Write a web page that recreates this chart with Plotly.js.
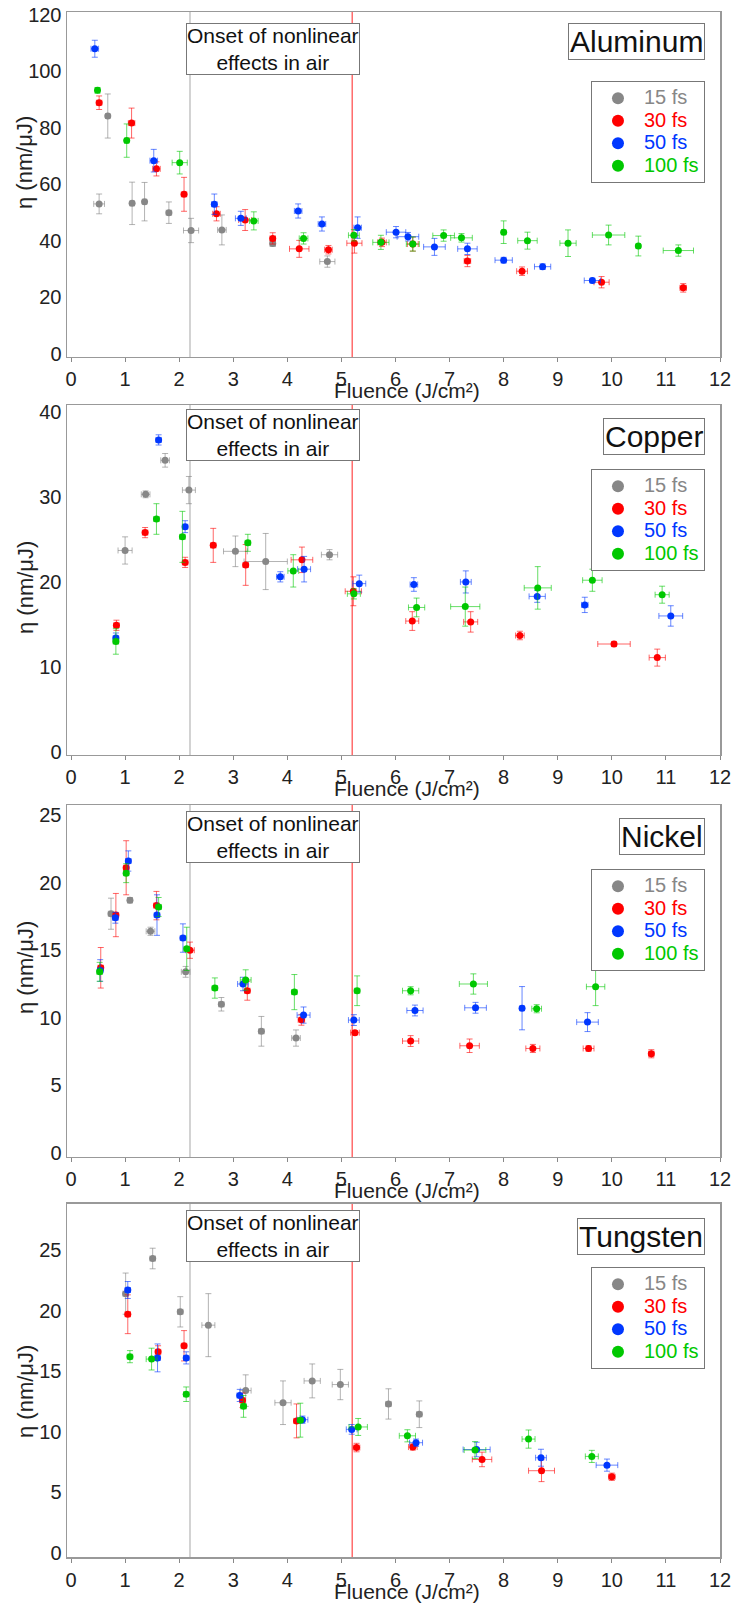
<!DOCTYPE html>
<html><head><meta charset="utf-8">
<script src="https://cdn.plot.ly/plotly-3.0.1.min.js"></script>
<style>body{margin:0;background:#fff}#chart{width:735px;height:1603px}</style>
</head><body><div id="chart"></div>
<script>
// ---------- categories / labels ----------
const pulses = ['15 fs', '30 fs', '50 fs', '100 fs'];
const metals = ['Aluminum', 'Copper', 'Nickel', 'Tungsten'];
const xTickVals = [0,1,2,3,4,5,6,7,8,9,10,11,12];
const yTicksAl = [0,20,40,60,80,100,120];
const yTicksCu = [0,10,20,30,40];
const yTicksNi = [0,5,10,15,20,25];
const yTicksW  = [0,5,10,15,20,25];
const onsetLabel = 'Onset of nonlinear<br>effects in air';
const airOnsetFluence = 2.2;
const secondMarkFluence = 5.2;

// ---------- Aluminum ----------
const al15_x  = [0.52,0.68,1.13,1.36,1.81,2.22,2.79,3.73,4.74];
const al15_y  = [53.1,84.2,53.3,53.9,50.0,43.7,43.9,39.1,32.7];
const al15_ex = [0.1,0.04,0.04,0.04,0.05,0.14,0.08,0.05,0.14];
const al15_ey = [3.5,7.8,7.5,6.8,3.8,4.3,5.3,1,2];
const al30_x  = [0.52,1.12,1.58,2.09,2.69,3.22,3.73,4.22,4.76,5.24,5.75,6.32,7.33,8.34,9.81,11.32];
const al30_y  = [88.9,81.7,65.5,56.5,49.6,47.4,40.9,37.2,36.9,39.2,39.5,38.9,32.9,29.3,25.4,23.4];
const al30_ex = [0.05,0.06,0.07,0.05,0.07,0.12,0.05,0.18,0.07,0.14,0.08,0.1,0.06,0.1,0.14,0.06];
const al30_ey = [2.4,5.3,2.5,6,2.5,3.7,2,3,1.5,3.5,1.5,2.5,2,1.5,2,1.5];
const al50_x  = [0.44,1.53,2.65,3.14,4.20,4.64,5.30,6.01,6.23,6.72,7.33,8.00,8.72,9.64];
const al50_y  = [108.0,68.4,53.0,48.0,50.6,46.0,44.7,43.1,41.5,37.9,37.2,33.2,30.9,26.0];
const al50_ex = [0.07,0.07,0.05,0.1,0.07,0.07,0.07,0.18,0.2,0.2,0.18,0.16,0.15,0.15];
const al50_ey = [3,4,3.6,2.5,2.5,2.5,3.8,2,1.5,3,2,1,1,0.8];
const al100_x  = [0.49,1.03,2.01,3.38,4.30,5.23,5.73,6.32,6.89,7.22,8.00,8.44,9.19,9.94,10.49,11.23];
const al100_y  = [93.3,75.5,67.7,47.1,40.9,42.0,39.5,38.9,41.9,41.1,43.1,40.1,39.2,42.1,38.2,36.6];
const al100_ex = [0.04,0.04,0.14,0.08,0.08,0.1,0.15,0.12,0.2,0.2,0.04,0.18,0.15,0.3,0.04,0.28];
const al100_ey = [1,5.9,4,3.2,2,2,2.5,2.5,2,1.5,4,3,4.7,3.5,3.5,2];

// ---------- Copper ----------
const cu15_x  = [1.00,1.38,1.74,2.18,3.04,3.60,4.78];
const cu15_y  = [23.7,30.3,34.3,30.8,23.6,22.4,23.2];
const cu15_ex = [0.13,0.08,0.08,0.12,0.22,0.4,0.15];
const cu15_ey = [1.6,0.4,0.8,1.6,1.8,3.3,0.6];
const cu30_x  = [0.84,1.37,2.11,2.63,3.23,4.27,5.22,6.31,7.39,8.30,10.04,10.84];
const cu30_y  = [14.9,25.8,22.3,24.3,22.0,22.6,18.9,15.4,15.3,13.7,12.7,11.1];
const cu30_ex = [0.05,0.05,0.05,0.05,0.05,0.2,0.15,0.12,0.13,0.08,0.3,0.15];
const cu30_ey = [0.6,0.6,0.6,2,2.4,1.5,1.7,1.1,1.2,0.5,0.3,1];
const cu50_x  = [0.83,1.62,2.11,3.87,4.31,5.33,6.34,7.30,8.62,9.50,11.09];
const cu50_y  = [13.4,36.7,26.5,20.6,21.5,19.8,19.7,20.0,18.3,17.3,16.0];
const cu50_ex = [0.05,0.05,0.05,0.07,0.12,0.12,0.07,0.1,0.15,0.06,0.22];
const cu50_ey = [0.6,0.6,0.7,0.6,1.5,1,0.8,1.3,0.7,0.9,1.2];
const cu100_x  = [0.83,1.58,2.06,3.27,4.11,5.23,6.39,7.29,8.63,9.64,10.93];
const cu100_y  = [13.0,27.4,25.3,24.6,21.3,18.6,17.0,17.1,19.3,20.2,18.5];
const cu100_ex = [0.05,0.05,0.05,0.05,0.1,0.12,0.15,0.27,0.25,0.18,0.13];
const cu100_ey = [1.5,1.8,3,1,1.9,0.6,1.1,2.3,2.5,1.3,1];

// ---------- Nickel ----------
const ni15_x  = [0.74,1.09,1.47,2.12,2.78,3.52,4.16];
const ni15_y  = [17.7,18.7,16.4,13.4,11.0,9.0,8.5];
const ni15_ex = [0.05,0.04,0.08,0.08,0.05,0.05,0.08];
const ni15_ey = [1.15,0.2,0.3,0.4,0.5,1.1,0.6];
const ni30_x  = [0.55,0.83,1.02,1.58,2.20,3.26,4.26,5.25,6.28,7.37,8.54,9.57,10.73];
const ni30_y  = [13.7,17.6,21.1,18.3,15.0,12.0,9.85,8.9,8.28,7.93,7.73,7.73,7.34];
const ni30_ex = [0.05,0.05,0.05,0.05,0.08,0.05,0.06,0.08,0.15,0.18,0.13,0.1,0.05];
const ni30_ey = [1.5,1.6,2,1.05,0.6,0.7,0.4,0.15,0.4,0.5,0.3,0.2,0.3];
const ni50_x  = [0.54,0.82,1.06,1.59,2.07,3.18,4.30,5.23,6.36,7.48,8.34,9.55];
const ni50_y  = [13.5,17.4,21.6,17.6,15.9,12.5,10.2,9.83,10.54,10.74,10.71,9.68];
const ni50_ex = [0.05,0.05,0.05,0.05,0.05,0.1,0.12,0.1,0.15,0.2,0.04,0.2];
const ni50_ey = [0.8,0.4,0.75,1.5,1.05,0.5,0.6,0.4,0.4,0.4,1.6,0.7];
const ni100_x  = [0.53,1.02,1.62,2.14,2.66,3.23,4.13,5.29,6.28,7.44,8.61,9.70];
const ni100_y  = [13.4,20.7,18.2,15.1,12.2,12.8,11.9,12.0,12.0,12.5,10.67,12.3];
const ni100_ex = [0.05,0.05,0.05,0.05,0.05,0.1,0.05,0.05,0.15,0.26,0.09,0.17];
const ni100_ey = [0.7,0.7,0.7,1.6,0.75,0.75,1.3,1.1,0.3,0.75,0.3,1.4];

// ---------- Tungsten ----------
const w15_x  = [1.01,1.51,2.02,2.54,3.23,3.92,4.46,4.98,5.87,6.44];
const w15_y  = [21.4,24.3,19.9,18.8,13.4,12.4,14.2,13.9,12.3,11.45];
const w15_ex = [0.05,0.05,0.05,0.12,0.1,0.15,0.15,0.15,0.05,0.05];
const w15_ey = [1.7,0.85,1.25,2.6,1.3,1.8,1.4,1.25,1.25,1.1];
const w30_x  = [1.05,1.61,2.09,3.17,4.17,5.28,6.32,7.60,8.70,10.0];
const w30_y  = [19.7,16.6,17.1,12.6,10.9,8.7,8.74,7.72,6.79,6.29];
const w30_ex = [0.05,0.05,0.05,0.05,0.05,0.06,0.08,0.18,0.24,0.06];
const w30_ey = [1.6,0.5,1.25,0.6,1.4,0.35,0.25,0.6,0.9,0.3];
const w50_x  = [1.05,1.60,2.13,3.12,4.28,5.19,6.38,7.50,8.69,9.91];
const w50_y  = [21.7,16.1,16.1,13.0,11.0,10.2,9.1,8.54,7.86,7.25];
const w50_ex = [0.05,0.05,0.05,0.05,0.1,0.1,0.12,0.25,0.1,0.2];
const w50_ey = [0.7,1.15,0.5,0.5,0.3,0.4,0.3,0.6,0.7,0.5];
const w100_x  = [1.09,1.49,2.13,3.19,4.24,5.31,6.22,7.47,8.46,9.63];
const w100_y  = [16.2,16.0,13.1,12.1,10.96,10.4,9.67,8.49,9.40,7.97];
const w100_ex = [0.05,0.1,0.05,0.05,0.05,0.17,0.15,0.2,0.12,0.12];
const w100_ey = [0.5,0.9,0.6,0.9,1.4,0.7,0.5,0.7,0.75,0.5];

// ---------- assembly ----------
const FONT = '"Liberation Sans", Arial, sans-serif';
const markerColors = ['#878787', '#ff0000', '#0037ff', '#00c800'];
const errColors = ['rgba(128,128,128,0.6)', 'rgba(255,0,0,0.6)', 'rgba(0,55,255,0.6)', 'rgba(0,200,0,0.6)'];

const panels = [
  {name: metals[0], ticks: yTicksAl, range: [-1.06, 121], dom: [0.7767, 1],
   sets: [[al15_x,al15_y,al15_ex,al15_ey],[al30_x,al30_y,al30_ex,al30_ey],[al50_x,al50_y,al50_ex,al50_ey],[al100_x,al100_y,al100_ex,al100_ey]]},
  {name: metals[1], ticks: yTicksCu, range: [-0.35, 40.8], dom: [0.5191, 0.7456],
   sets: [[cu15_x,cu15_y,cu15_ex,cu15_ey],[cu30_x,cu30_y,cu30_ex,cu30_ey],[cu50_x,cu50_y,cu50_ex,cu50_ey],[cu100_x,cu100_y,cu100_ex,cu100_ey]]},
  {name: metals[2], ticks: yTicksNi, range: [-0.3, 25.74], dom: [0.2589, 0.4867],
   sets: [[ni15_x,ni15_y,ni15_ex,ni15_ey],[ni30_x,ni30_y,ni30_ex,ni30_ey],[ni50_x,ni50_y,ni50_ex,ni50_ey],[ni100_x,ni100_y,ni100_ex,ni100_ey]]},
  {name: metals[3], ticks: yTicksW, range: [-0.33, 28.8], dom: [0, 0.2285],
   sets: [[w15_x,w15_y,w15_ex,w15_ey],[w30_x,w30_y,w30_ex,w30_ey],[w50_x,w50_y,w50_ex,w50_ey],[w100_x,w100_y,w100_ex,w100_ey]]}
];

// layout-position helpers (pixels -> paper)
const plotTop = 12, plotBottom = 1557, plotH = plotBottom - plotTop;
const pyToPaper = py => (plotBottom - py) / plotH;
const legendTopsPx = [81, 469, 869, 1267];
const yTitlePx = [163, 588, 968, 1392];
const labelTops = [0.968, 0.963, 0.963, 0.960];
const onsetTops = [0.968, 0.989, 0.983, 0.983];

const traces = [];
const layout = {
  width: 735, height: 1603,
  margin: {l: 67, r: 15, t: 12, b: 46},
  paper_bgcolor: '#fff', plot_bgcolor: '#fff',
  font: {family: FONT, color: '#222'},
  annotations: [], shapes: []
};

panels.forEach((p, k) => {
  const sfx = k === 0 ? '' : String(k + 1);
  const xa = 'x' + sfx, ya = 'y' + sfx;
  const legName = 'legend' + sfx;
  p.sets.forEach((s, i) => {
    traces.push({
      type: 'scatter', mode: 'markers',
      x: s[0], y: s[1],
      xaxis: xa, yaxis: ya, legend: legName,
      name: '<span style="font-size:20px;color:' + markerColors[i] + '">' + pulses[i] + '</span>',
      marker: {color: markerColors[i], size: 7},
      error_x: {type: 'data', array: s[2], color: errColors[i], thickness: 1, width: 3},
      error_y: {type: 'data', array: s[3], color: errColors[i], thickness: 1, width: 3},
      showlegend: true
    });
  });
  layout['xaxis' + sfx] = {
    anchor: ya, domain: [0, 1], range: [-0.074, 12],
    tickmode: 'array', tickvals: xTickVals,
    ticks: 'outside', ticklen: 4, tickcolor: '#888',
    showline: true, mirror: true, linecolor: '#999', linewidth: 1.5,
    showgrid: false, zeroline: false,
    tickfont: {size: 20, family: FONT, color: '#222'}
  };
  layout['yaxis' + sfx] = {
    anchor: xa, domain: p.dom, range: p.range,
    tickmode: 'array', tickvals: p.ticks,
    ticks: '',
    showline: true, mirror: true, linecolor: '#999', linewidth: 1.5,
    showgrid: false, zeroline: false,
    tickfont: {size: 20, family: FONT, color: '#222'}
  };
  layout[legName] = {
    x: 0.977, xanchor: 'right', y: pyToPaper(legendTopsPx[k]), yanchor: 'top',
    xref: 'paper', yref: 'paper',
    bgcolor: '#fff', bordercolor: '#777', borderwidth: 1,
    font: {size: 15, family: FONT}, itemsizing: 'constant', itemwidth: 42, traceorder: 'normal'
  };
  // vertical markers
  layout.shapes.push({type: 'line', xref: xa, yref: ya + ' domain', x0: airOnsetFluence, x1: airOnsetFluence, y0: 0, y1: 1,
    layer: 'below', line: {color: '#c4c4c4', width: 1.5}});
  layout.shapes.push({type: 'line', xref: xa, yref: ya + ' domain', x0: secondMarkFluence, x1: secondMarkFluence, y0: 0, y1: 1,
    layer: 'below', line: {color: 'rgba(255,70,70,0.8)', width: 1.5}});
  // onset box
  layout.annotations.push({xref: xa, yref: ya + ' domain', x: 3.74, y: onsetTops[k], xanchor: 'center', yanchor: 'top',
    text: onsetLabel, showarrow: false, align: 'center', bgcolor: '#fff', bordercolor: '#777', borderwidth: 1, borderpad: 0,
    font: {size: 21, family: FONT, color: '#111'}});
  // metal label
  layout.annotations.push({xref: xa + ' domain', yref: ya + ' domain', x: 0.977, y: labelTops[k], xanchor: 'right', yanchor: 'top',
    text: p.name, showarrow: false, bgcolor: '#fff', bordercolor: '#777', borderwidth: 1, borderpad: 1,
    font: {size: 30, family: FONT, color: '#111'}});
  // y title
  layout.annotations.push({xref: 'paper', yref: 'paper', x: -0.0643, y: pyToPaper(yTitlePx[k]), xanchor: 'center', yanchor: 'middle',
    text: 'η (nm/μJ)', textangle: -90, showarrow: false, font: {size: 22, family: FONT, color: '#222'}});
  // x title
  layout.annotations.push({xref: 'paper', yref: ya + ' domain', x: 0.5214, y: 0, yshift: -34, xanchor: 'center', yanchor: 'middle',
    text: 'Fluence (J/cm²)', showarrow: false, font: {size: 21, family: FONT, color: '#222'}});
});

Plotly.newPlot('chart', traces, layout, {staticPlot: true, displayModeBar: false});
</script>
</body></html>
